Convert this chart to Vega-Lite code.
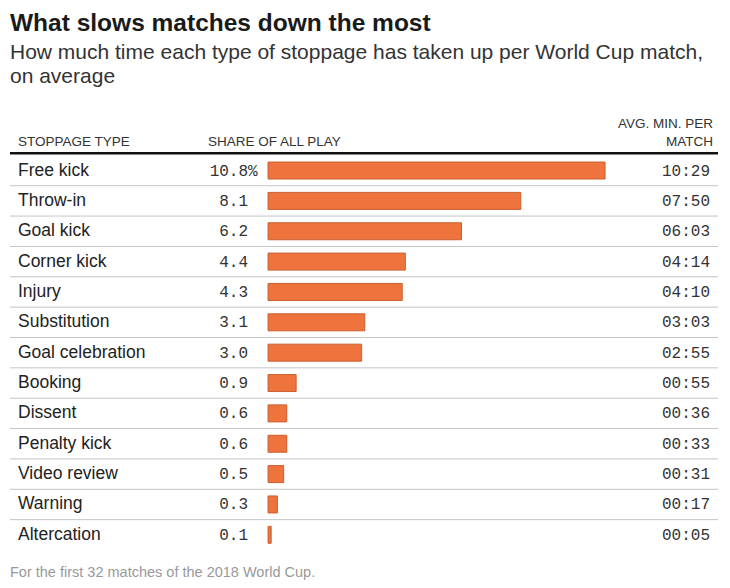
{
  "$schema": "https://vega.github.io/schema/vega-lite/v6.json",
  "width": 708,
  "height": 425,
  "autosize": "none",
  "padding": {"left": 10, "top": 125, "right": 12, "bottom": 38},
  "background": "white",
  "title": {
    "text": "What slows matches down the most",
    "subtitle": ["How much time each type of stoppage has taken up per World Cup match,", "on average"],
    "anchor": "start",
    "frame": "group",
    "offset": 29,
    "font": "Liberation Sans",
    "fontSize": 24.5,
    "fontWeight": "bold",
    "color": "#1a1a1a",
    "subtitleFont": "Liberation Sans",
    "subtitleFontSize": 21,
    "subtitleColor": "#333333",
    "subtitleLineHeight": 24.5,
    "subtitlePadding": 5
  },
  "config": {"view": {"stroke": null}},
  "data": {
    "values": [
      {"type": "Free kick", "share": 10.8, "time": "10:29"},
      {"type": "Throw-in", "share": 8.1, "time": "07:50"},
      {"type": "Goal kick", "share": 6.2, "time": "06:03"},
      {"type": "Corner kick", "share": 4.4, "time": "04:14"},
      {"type": "Injury", "share": 4.3, "time": "04:10"},
      {"type": "Substitution", "share": 3.1, "time": "03:03"},
      {"type": "Goal celebration", "share": 3.0, "time": "02:55"},
      {"type": "Booking", "share": 0.9, "time": "00:55"},
      {"type": "Dissent", "share": 0.6, "time": "00:36"},
      {"type": "Penalty kick", "share": 0.6, "time": "00:33"},
      {"type": "Video review", "share": 0.5, "time": "00:31"},
      {"type": "Warning", "share": 0.3, "time": "00:17"},
      {"type": "Altercation", "share": 0.1, "time": "00:05"}
    ]
  },
  "encoding": {
    "y": {
      "field": "type",
      "type": "nominal",
      "scale": {
        "domain": ["_hdr", "Free kick", "Throw-in", "Goal kick", "Corner kick", "Injury", "Substitution", "Goal celebration", "Booking", "Dissent", "Penalty kick", "Video review", "Warning", "Altercation"],
        "paddingInner": 0,
        "paddingOuter": 0
      },
      "axis": null
    }
  },
  "layer": [
    {
      "transform": [{"filter": "datum.type !== 'Altercation'"}],
      "mark": {"type": "rule", "color": "#c4c4c4", "strokeWidth": 1},
      "encoding": {"y": {"field": "type", "type": "nominal", "bandPosition": 1}}
    },
    {
      "data": {"values": [{}]},
      "mark": {"type": "rule", "color": "#111111", "strokeWidth": 2.5, "yOffset": -2},
      "encoding": {"y": {"datum": "_hdr", "type": "nominal", "bandPosition": 1}}
    },
    {
      "mark": {"type": "bar", "color": "#ee733d", "stroke": "#c9602e", "strokeWidth": 1, "height": 17},
      "encoding": {
        "x": {"field": "share", "type": "quantitative", "scale": {"domain": [-8.27, 14.42], "nice": false, "zero": false}, "axis": null}
      }
    },
    {
      "mark": {"type": "text", "align": "left", "baseline": "middle", "dx": 8, "font": "Liberation Sans", "fontSize": 17.5, "color": "#222222"},
      "encoding": {
        "x": {"datum": -8.27, "type": "quantitative"},
        "text": {"field": "type"}
      }
    },
    {
      "mark": {"type": "text", "align": "right", "baseline": "middle", "dx": -20, "font": "Liberation Mono", "fontSize": 16, "color": "#333333"},
      "encoding": {
        "x": {"datum": 0, "type": "quantitative"},
        "text": {"field": "share", "format": ".1f"}
      }
    },
    {
      "transform": [{"filter": "datum.type === 'Free kick'"}],
      "mark": {"type": "text", "align": "left", "baseline": "middle", "dx": -20, "font": "Liberation Mono", "fontSize": 16, "color": "#333333"},
      "encoding": {
        "x": {"datum": 0, "type": "quantitative"},
        "text": {"value": "%"}
      }
    },
    {
      "mark": {"type": "text", "align": "right", "baseline": "middle", "dx": -8, "font": "Liberation Mono", "fontSize": 16, "color": "#333333"},
      "encoding": {
        "x": {"datum": 14.42, "type": "quantitative"},
        "text": {"field": "time"}
      }
    },
    {
      "data": {"values": [{}]},
      "mark": {"type": "text", "align": "left", "baseline": "alphabetic", "dx": 8, "dy": 6, "font": "Liberation Sans", "fontSize": 13.5, "color": "#333333"},
      "encoding": {
        "x": {"datum": -8.27, "type": "quantitative"},
        "y": {"datum": "_hdr", "type": "nominal"},
        "text": {"value": "STOPPAGE TYPE"}
      }
    },
    {
      "data": {"values": [{}]},
      "mark": {"type": "text", "align": "left", "baseline": "alphabetic", "dx": -60, "dy": 6, "font": "Liberation Sans", "fontSize": 13.5, "color": "#333333"},
      "encoding": {
        "x": {"datum": 0, "type": "quantitative"},
        "y": {"datum": "_hdr", "type": "nominal"},
        "text": {"value": "SHARE OF ALL PLAY"}
      }
    },
    {
      "data": {"values": [{}]},
      "mark": {"type": "text", "align": "right", "baseline": "alphabetic", "dx": -5, "dy": 6, "font": "Liberation Sans", "fontSize": 13.5, "color": "#333333"},
      "encoding": {
        "x": {"datum": 14.42, "type": "quantitative"},
        "y": {"datum": "_hdr", "type": "nominal"},
        "text": {"value": "MATCH"}
      }
    },
    {
      "data": {"values": [{}]},
      "mark": {"type": "text", "align": "right", "baseline": "alphabetic", "dx": -5, "dy": -12, "font": "Liberation Sans", "fontSize": 13.5, "color": "#333333"},
      "encoding": {
        "x": {"datum": 14.42, "type": "quantitative"},
        "y": {"datum": "_hdr", "type": "nominal"},
        "text": {"value": "AVG. MIN. PER"}
      }
    },
    {
      "data": {"values": [{}]},
      "mark": {"type": "text", "align": "left", "baseline": "middle", "dy": 38, "font": "Liberation Sans", "fontSize": 14.5, "color": "#999999"},
      "encoding": {
        "x": {"datum": -8.27, "type": "quantitative"},
        "y": {"datum": "Altercation", "type": "nominal"},
        "text": {"value": "For the first 32 matches of the 2018 World Cup."}
      }
    }
  ]
}
